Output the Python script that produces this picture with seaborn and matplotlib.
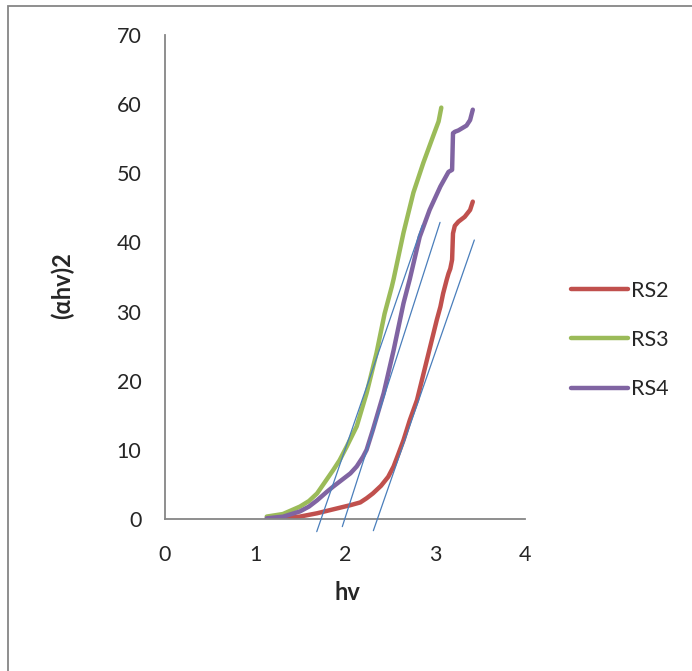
import numpy as np
import pandas as pd
import matplotlib
matplotlib.use("Agg")
import matplotlib.pyplot as plt
import seaborn as sns
from matplotlib.patches import Rectangle

# ---- data ----
series_names = ["RS2", "RS3", "RS4"]

rs2_x = [1.13, 1.3, 1.5, 1.69, 1.87, 2.06, 2.17, 2.24, 2.31, 2.40, 2.48, 2.54, 2.59,
         2.65, 2.72, 2.80, 2.91, 3.02, 3.06, 3.09, 3.13, 3.15, 3.17, 3.19, 3.20,
         3.22, 3.26, 3.33, 3.39, 3.42]
rs2_y = [0.0, 0.1, 0.35, 0.83, 1.4, 2.0, 2.4, 3.0, 3.7, 4.8, 6.1, 7.6, 9.3,
         11.4, 14.3, 17.2, 23.0, 28.8, 30.7, 32.6, 34.6, 35.5, 36.2, 37.5, 41.3,
         42.4, 43.0, 43.7, 44.7, 45.9]

rs3_x = [1.13, 1.31, 1.5, 1.6, 1.69, 1.78, 1.87, 1.94, 2.02, 2.13, 2.24, 2.35, 2.44,
         2.52, 2.54, 2.65, 2.76, 2.87, 2.98, 3.04, 3.07]
rs3_y = [0.35, 0.72, 1.8, 2.6, 3.7, 5.4, 7.1, 8.5, 10.5, 13.4, 18.2, 24.0, 29.7,
         33.6, 34.7, 41.4, 47.2, 51.5, 55.4, 57.5, 59.5]

rs4_x = [1.13, 1.31, 1.5, 1.6, 1.69, 1.80, 1.87, 2.06, 2.13, 2.20, 2.24, 2.31, 2.43,
         2.54, 2.65, 2.72, 2.83, 2.94, 3.06, 3.15, 3.19, 3.20, 3.22, 3.26, 3.35,
         3.39, 3.42]
rs4_y = [0.1, 0.33, 1.1, 1.8, 2.7, 3.95, 4.7, 6.6, 7.6, 9.0, 10.0, 12.9, 18.2,
         24.4, 31.2, 34.7, 40.8, 44.7, 48.1, 50.2, 50.5, 55.8, 56.0, 56.2, 56.9,
         57.7, 59.2]

# tangent (Tauc extrapolation) lines: start and end points
tangent_x = [[1.686, 2.86], [1.97, 3.056], [2.315, 3.437]]
tangent_y = [[-1.83, 42.5], [-1.1, 42.9], [-1.69, 40.35]]

x_ticks = [0, 1, 2, 3, 4]
y_ticks = [0, 10, 20, 30, 40, 50, 60, 70]

colors = {"RS2": "#C0504D", "RS3": "#9BBB59", "RS4": "#8064A2"}
tangent_color = "#4A7EBB"

df = pd.concat([
    pd.DataFrame({"hv": rs2_x, "val": rs2_y, "series": "RS2"}),
    pd.DataFrame({"hv": rs3_x, "val": rs3_y, "series": "RS3"}),
    pd.DataFrame({"hv": rs4_x, "val": rs4_y, "series": "RS4"}),
])

sns.set_theme(style="white")
plt.rcParams["font.family"] = ["Lato", "DejaVu Sans"]

FS = 15.5
LFS = 17
W, H = 692, 671
fig = plt.figure(figsize=(W / 100, H / 100), dpi=100)
ax = fig.add_axes([165 / W, 1 - 519 / H, 360 / W, 484 / H])

sns.lineplot(data=df, x="hv", y="val", hue="series", hue_order=series_names,
             palette=colors, sort=False, estimator=None, linewidth=3.2,
             ax=ax, legend=True, solid_capstyle="round", solid_joinstyle="round")

for tx, ty in zip(tangent_x, tangent_y):
    ax.plot(tx, ty, color=tangent_color, linewidth=0.9, clip_on=False, zorder=5)

ax.set_xlim(0, 4)
ax.set_ylim(0, 70)
ax.set_xticks(x_ticks)
ax.set_yticks(y_ticks)
ax.set_xticklabels([str(v) for v in x_ticks], fontsize=FS)
ax.set_yticklabels([str(v) for v in y_ticks], fontsize=FS)
ax.tick_params(axis="x", length=0, pad=19)
ax.tick_params(axis="y", length=0, pad=17)
for s in ["top", "right"]:
    ax.spines[s].set_visible(False)
for s in ["left", "bottom"]:
    ax.spines[s].set_color("#868686")
    ax.spines[s].set_linewidth(1.3)

ax.set_xlabel("")
ax.set_ylabel("")
fig.text(347 / W, 1 - 593 / H, "hv", ha="center", va="center",
         fontsize=LFS, fontweight="bold")
fig.text(62 / W, 1 - 286 / H, "(αhv)2", ha="center", va="center",
         rotation=90, fontsize=LFS, fontweight="bold")

handles, labels = ax.get_legend_handles_labels()
ax.get_legend().remove()
for h in handles:
    h.set_linewidth(3.2)
    h.set_solid_capstyle("round")
fig.legend(handles, labels, loc="center left",
           bbox_to_anchor=(571 / W, 1 - 340 / H), frameon=False,
           fontsize=FS, handlelength=2.65, handletextpad=0.12,
           labelspacing=1.35, borderaxespad=0, borderpad=0)

# outer chart border (Excel chart area)
fig.patches.append(Rectangle((7.5 / W, -0.05), 1.2, 1 - 5.5 / H + 0.05,
                             transform=fig.transFigure, fill=False,
                             edgecolor="#868686", linewidth=1.3))

fig.savefig("out.png", dpi=100)
